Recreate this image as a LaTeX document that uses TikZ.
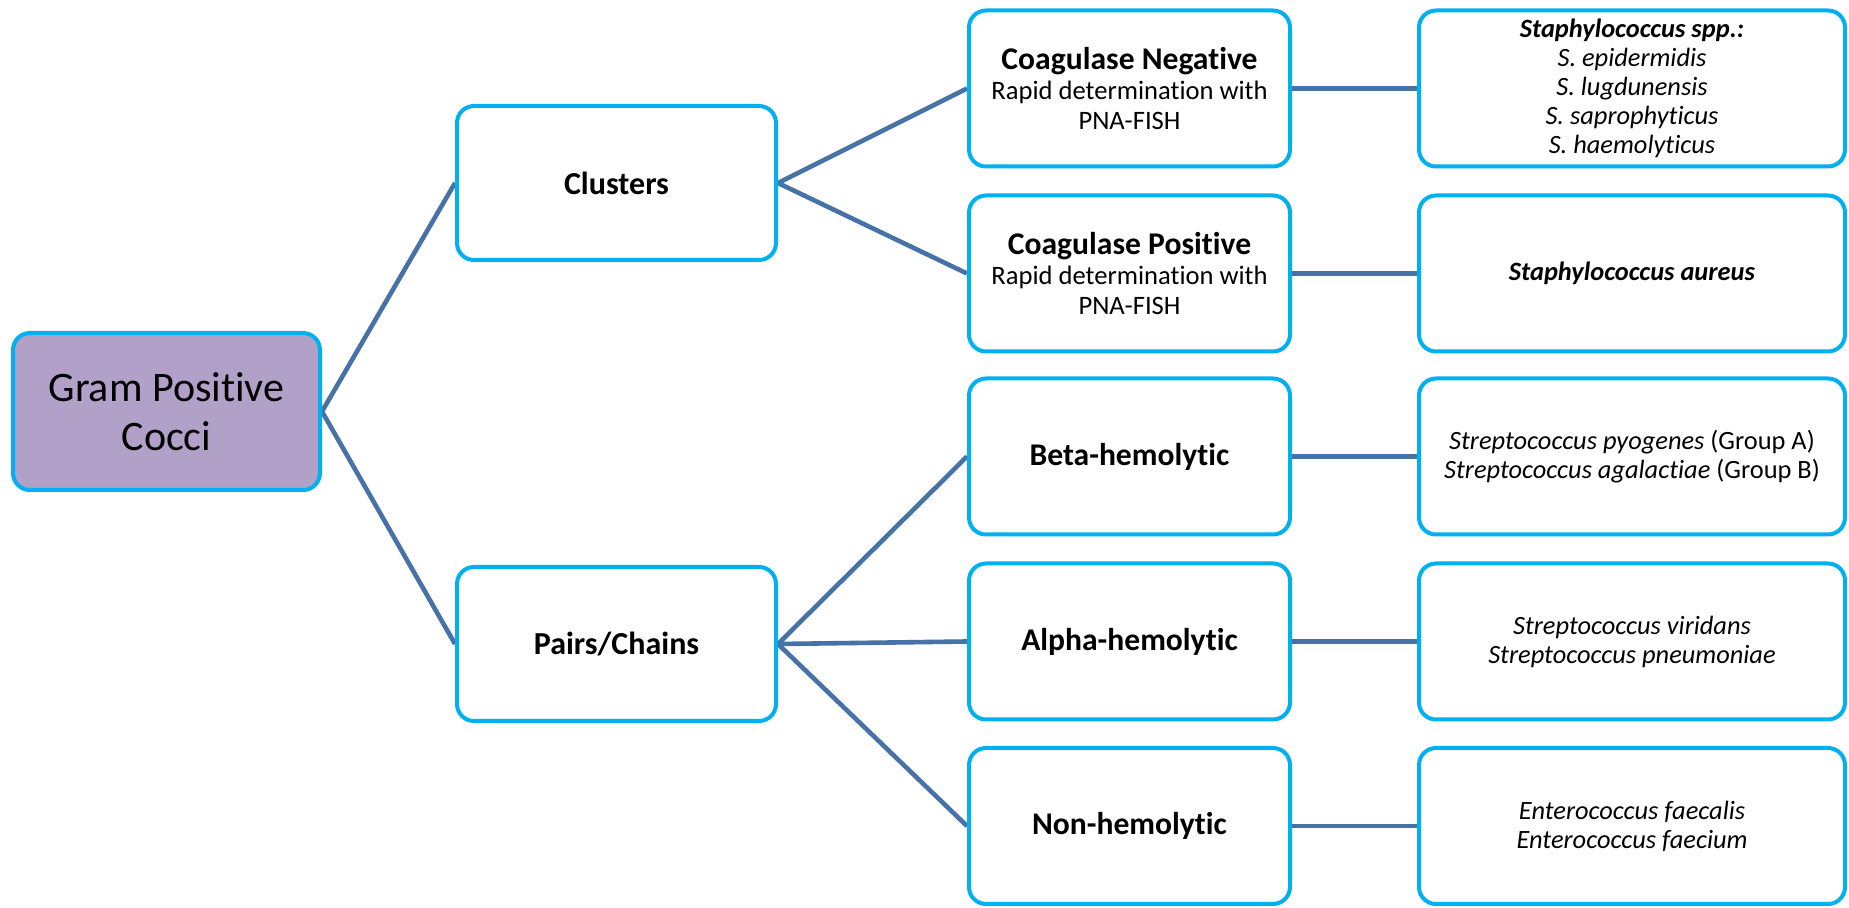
\documentclass[tikz,border=0pt]{standalone}
\usepackage{fontspec}
\setmainfont{Carlito}[Ligatures={NoCommon}]
\usetikzlibrary{backgrounds}
\definecolor{boxblue}{RGB}{0,176,240}
\definecolor{linkblue}{RGB}{70,114,168}
\definecolor{gramfill}{RGB}{177,160,199}
\begin{document}
\begin{tikzpicture}[x=0.5pt,y=-0.5pt,
  box/.style={draw=boxblue, line width=2pt, rounded corners=8.5pt, fill=white, align=center, inner sep=0pt},
  rootbox/.style={box, fill=gramfill, minimum width=153.5pt, minimum height=78.5pt, font=\fontsize{21}{24.5}\selectfont},
  midbox/.style={box, minimum width=159.5pt, minimum height=77pt, font=\fontsize{16}{18.6}\selectfont\bfseries},
  testbox/.style={box, minimum width=160.5pt, minimum height=78pt, font=\fontsize{13.3}{15}\selectfont},
  orgbox/.style={box, minimum width=213pt, minimum height=78pt, font=\fontsize{13.2}{14.5}\selectfont},
  link/.style={draw=linkblue, line width=2.3pt}]
\newcommand{\hd}[1]{{\fontsize{15.8}{15}\selectfont\bfseries #1}}
\useasboundingbox (0,0) rectangle (1849,908);

\node[rootbox] (gram) at (166.5,411.5) {Gram Positive\\Cocci};

\node[midbox] (clusters) at (616.5,183) {Clusters};
\node[midbox] (pairs) at (616.5,644) {Pairs/Chains};

\node[testbox] (cneg) at (1129.5,88.5) {\hd{Coagulase Negative}\\Rapid determination with\\PNA-FISH};
\node[testbox] (cpos) at (1129.5,273.5) {\hd{Coagulase Positive}\\Rapid determination with\\PNA-FISH};
\node[testbox] (beta) at (1129.5,456.5) {\hd{Beta-hemolytic}};
\node[testbox] (alpha) at (1129.5,641.5) {\hd{Alpha-hemolytic}};
\node[testbox] (non) at (1129.5,826) {\hd{Non-hemolytic}};

\node[orgbox] (staph) at (1632,88.5) {\textbf{\textit{Staphylococcus spp.:}}\\\textit{S. epidermidis}\\\textit{S. lugdunensis}\\\textit{S. saprophyticus}\\\textit{S. haemolyticus}};
\node[orgbox] (aureus) at (1632,273.5) {\textbf{\textit{Staphylococcus aureus}}};
\node[orgbox] (strepb) at (1632,456.5) {\textit{Streptococcus pyogenes} (Group A)\\\textit{Streptococcus agalactiae} (Group B)};
\node[orgbox] (strepa) at (1632,641.5) {\textit{Streptococcus viridans}\\\textit{Streptococcus pneumoniae}};
\node[orgbox] (entero) at (1632,826) {\textit{Enterococcus faecalis}\\\textit{Enterococcus faecium}};

\begin{scope}[on background layer]
  \fill[white] (0,0) rectangle (1849,908);
  \draw[link] (gram.east) -- (clusters.west);
  \draw[link] (gram.east) -- (pairs.west);
  \draw[link] (clusters.east) -- (cneg.west);
  \draw[link] (clusters.east) -- (cpos.west);
  \draw[link] (pairs.east) -- (beta.west);
  \draw[link] (pairs.east) -- (alpha.west);
  \draw[link] (pairs.east) -- (non.west);
  \draw[link] (cneg.east) -- (staph.west);
  \draw[link] (cpos.east) -- (aureus.west);
  \draw[link] (beta.east) -- (strepb.west);
  \draw[link] (alpha.east) -- (strepa.west);
  \draw[link] (non.east) -- (entero.west);
\end{scope}
\end{tikzpicture}
\end{document}
